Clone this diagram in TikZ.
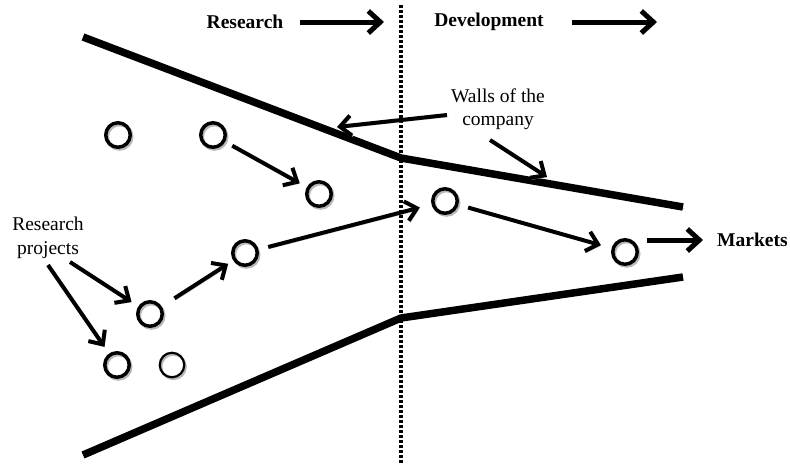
\documentclass[tikz,border=0pt]{standalone}
\usepackage{fontspec}
\setmainfont{Liberation Serif}
\usetikzlibrary{arrows.meta}
\begin{document}
\begin{tikzpicture}[x=1pt,y=-1pt,
  shad/.style={preaction={draw=black!28, transform canvas={shift={(1.5,1.8)}}}},
  wall/.style={line width=7.5pt, line cap=butt, line join=miter, shad},
  proj/.style={circle, draw, line width=3.5pt, minimum size=24.5pt, inner sep=0pt, shad},
  arr/.style={line width=4pt, -{Straight Barb[length=11pt,width=20pt]}, shad},
  barr/.style={line width=5pt, -{Straight Barb[length=12pt,width=22pt]}, shad},
  lbl/.style={font=\fontsize{19.5}{23.5}\selectfont, align=center, inner sep=0pt},
  blbl/.style={font=\fontsize{19.5}{23.5}\selectfont\bfseries, inner sep=0pt}]
\useasboundingbox (0,0) rectangle (790,464);
% divider
\coordinate (dtop) at (401,5);
\coordinate (dbot) at (401,464);
\draw[line width=4pt, dash pattern=on 3pt off 2pt] (dtop) -- (dbot);
% walls
\coordinate (t1) at (83,37);
\coordinate (t2) at (401,158);
\coordinate (t3) at (683,207);
\coordinate (b1) at (83,455);
\coordinate (b2) at (401,318);
\coordinate (b3) at (683,277);
\draw[wall] (t1) -- (t2) -- (t3);
\draw[wall] (b1) -- (b2) -- (b3);
% headers
\node[blbl] (res) at (245,22) {Research};
\coordinate (resT) at (384,22);
\draw[barr, shorten <=17pt] (res.east) -- (resT);
\node[blbl] (dev) at (489,22) {Development};
\coordinate (devT) at (657,22);
\draw[barr, shorten <=28pt] (dev.east) -- (devT);
% projects
\node[proj] (c1) at (118,135) {};
\node[proj] (c2) at (213,135) {};
\node[proj] (c3) at (319,194) {};
\node[proj] (c4) at (445,201) {};
\node[proj] (c5) at (625,252) {};
\node[proj] (c6) at (245,253) {};
\node[proj] (c7) at (150,314) {};
\node[proj] (c8) at (117,365) {};
\node[proj, line width=2.2pt] (c9) at (172,365) {};
\draw[arr, shorten <=8pt, shorten >=8pt] (c2) -- (c3);
\draw[arr, shorten <=15pt, shorten >=6pt] (c7) -- (c6);
\draw[arr, shorten <=10pt, shorten >=12pt] (c6) -- (c4);
\draw[arr, shorten <=10pt, shorten >=11pt] (c4) -- (c5);
% markets
\node[blbl, anchor=west] (mk) at (717,240) {Markets};
\draw[barr, shorten <=8pt, shorten >=14pt] (c5.east |- mk.west) -- (mk.west);
% walls label
\node[lbl] (wl) at (498,109) {Walls of the\\company};
\coordinate (w1s) at (447,115);
\coordinate (w1) at (337,127);
\coordinate (w2s) at (490,140);
\coordinate (w2) at (547,177);
\draw[arr] (w1s) -- (w1);
\draw[arr] (w2s) -- (w2);
% research projects label
\node[lbl] (rp) at (48,238) {Research\\projects};
\coordinate (rp1s) at (70,262);
\coordinate (rp2s) at (48,265);
\draw[arr, shorten >=8pt] (rp1s) -- (c7);
\draw[arr, shorten >=8pt] (rp2s) -- (c8);
\end{tikzpicture}
\end{document}
